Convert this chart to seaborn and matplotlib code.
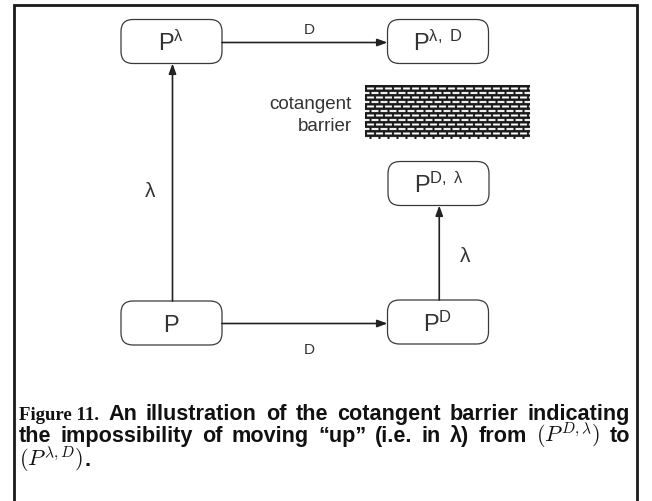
import matplotlib

matplotlib.use("Agg")
import matplotlib.pyplot as plt
import numpy as np
import seaborn as sns
from matplotlib.patches import FancyBboxPatch

# diagram nodes: box centres in pixel space of the 652x502 canvas
node_names = ["P", "P_lam", "P_lam_D", "P_D", "P_D_lam"]
node_labels = [
    r"$\mathrm{P}$",
    r"$\mathrm{P}^{\mathrm{\lambda}}$",
    r"$\mathrm{P}^{\mathrm{\lambda},\ \mathrm{D}}$",
    r"$\mathrm{P}^{\mathrm{D}}$",
    r"$\mathrm{P}^{\mathrm{D},\ \mathrm{\lambda}}$",
]
node_x = [171.5, 171.5, 438.0, 438.0, 438.5]
node_y = [324.0, 42.5, 42.5, 323.0, 184.5]

# edges between nodes and their labels
edge_src = ["P", "P", "P_lam", "P_D"]
edge_dst = ["P_lam", "P_D", "P_lam_D", "P_D_lam"]
edge_labels = ["λ", "D", "D", "λ"]
edge_label_x = [150, 309, 309, 465]
edge_label_y = [192, 350, 30, 256]

barrier_text = ["cotangent", "barrier"]

# caption pieces per line: (text, kind) where kind is head / sans / math
caption_line1 = [("Figure 11.", "head"), ("An illustration of the cotangent barrier indicating", "sans")]
caption_line2 = [
    ("the impossibility of moving \u201cup\u201d (i.e.  in λ) from", "sans"),
    (r"$(P^{D,\lambda})$", "math"),
    ("to", "sans"),
]
caption_line3 = [(r"$(P^{\lambda,D})$", "math"), (".", "sans")]
caption_baselines = [420, 442, 466]
caption_justify = [True, True, False]

BOX_W, BOX_H = 101, 44
TEXT = "#333333"
LINE = "#222222"
INK = "#111111"

STYLES = {
    "head": dict(fontsize=13.5, fontweight="bold", family=["Liberation Serif"]),
    "sans": dict(fontsize=15.6, fontweight="bold", family=["Liberation Sans"]),
    "math": dict(fontsize=16, family=["Liberation Sans"]),
}


def brick_texture(width_px, height_px, scale=2):
    # brick hatch used for the barrier block (white bricks, dark mortar)
    h, w = height_px * scale, width_px * scale
    img = np.ones((h, w))
    row_pitch, brick_len = 9, 18
    for r in range(h):
        band = r // row_pitch
        if r % row_pitch < 5:
            img[r, :] = 0.1
        else:
            offset = (brick_len // 2) * (band % 2)
            for c in range(w):
                if (c + offset) % brick_len < 4:
                    img[r, c] = 0.1
    return img


def caption_line(ax, renderer, pieces, x0, y, justify, x1=630):
    # split into words so the line can be justified like the typeset caption
    words = []
    for text, kind in pieces:
        if kind == "sans":
            words += [(w, kind) for w in text.split()]
        else:
            words.append((text, kind))
    artists = [ax.text(x0, y, w, ha="left", va="baseline", color=INK, **STYLES[k])
               for w, k in words]
    widths = [a.get_window_extent(renderer).width for a in artists]
    if justify:
        gap = (x1 - x0 - sum(widths)) / (len(words) - 1)
    else:
        gap = 1.0
    x = x0
    for a, w in zip(artists, widths):
        a.set_x(x)
        x += w + gap


def main() -> None:
    sns.set_style("white")
    plt.rcParams["font.family"] = ["Liberation Sans", "DejaVu Sans"]
    plt.rcParams["mathtext.fontset"] = "cm"
    plt.rcParams["mathtext.rm"] = "Liberation Sans"
    plt.rcParams["mathtext.it"] = "Liberation Sans:italic"
    plt.rcParams["mathtext.bf"] = "Liberation Sans:bold"
    plt.rcParams["mathtext.sf"] = "Liberation Sans"

    fig = plt.figure(figsize=(6.52, 5.02), dpi=100)
    ax = fig.add_axes([0, 0, 1, 1])
    ax.set_xlim(0, 652)
    ax.set_ylim(502, 0)
    ax.axis("off")

    # outer frame (open at the bottom)
    ax.plot([14, 14, 637, 637], [503, 6, 6, 503], color="#1a1a1a", lw=2.0, solid_joinstyle="miter")

    pos = {n: (x, y) for n, x, y in zip(node_names, node_x, node_y)}

    for name, label in zip(node_names, node_labels):
        cx, cy = pos[name]
        box = FancyBboxPatch(
            (cx - BOX_W / 2, cy - BOX_H / 2), BOX_W, BOX_H,
            boxstyle="round,pad=0,rounding_size=12",
            facecolor="white", edgecolor="#3a3a3a", lw=0.9,
        )
        ax.add_patch(box)
        ax.text(cx, cy + 8.5, label, ha="center", va="baseline", fontsize=17,
                color=TEXT, math_fontfamily="custom")

    for src, dst in zip(edge_src, edge_dst):
        sx, sy = pos[src]
        dx, dy = pos[dst]
        if abs(sx - dx) < 5:
            x = (sx + dx) / 2 + 1
            start = (x, sy - BOX_H / 2)
            end = (x, dy + BOX_H / 2)
        else:
            y = (sy + dy) / 2 + 1
            start = (sx + BOX_W / 2, y)
            end = (dx - BOX_W / 2, y)
        ax.annotate(
            "", xy=end, xytext=start,
            arrowprops=dict(arrowstyle="-|>,head_length=0.6,head_width=0.22",
                            color=LINE, lw=1.2, shrinkA=0, shrinkB=0),
        )

    for lab, lx, ly in zip(edge_labels, edge_label_x, edge_label_y):
        size = 15 if lab == "λ" else 11
        ax.text(lx, ly, lab, ha="center", va="center", fontsize=size, color=TEXT)

    # cotangent barrier block
    ax.imshow(brick_texture(165, 54), cmap="gray", vmin=0, vmax=1,
              extent=(365, 530, 140, 86), interpolation="antialiased", aspect="auto")
    ax.text(352, 109, barrier_text[0], ha="right", va="baseline", fontsize=13.5, color=TEXT)
    ax.text(352, 131, barrier_text[1], ha="right", va="baseline", fontsize=13.5, color=TEXT)

    # caption
    renderer = fig.canvas.get_renderer()
    lines = [caption_line1, caption_line2, caption_line3]
    for pieces, base, just in zip(lines, caption_baselines, caption_justify):
        caption_line(ax, renderer, pieces, 19, base, just)

    fig.savefig("out.png", dpi=100)
    plt.close(fig)


if __name__ == "__main__":
    main()
